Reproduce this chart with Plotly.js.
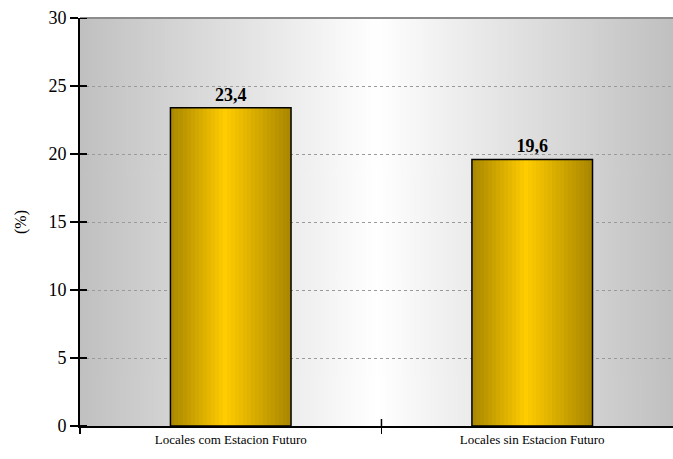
<!DOCTYPE html>
<html><head><meta charset="utf-8">
<script src="https://cdn.plot.ly/plotly-3.0.1.min.js"></script>
<style>html,body{margin:0;padding:0;overflow:hidden;background:#fff}</style>
</head><body><div id="chart" style="width:673px;height:459px"></div>
<script>
const categories = ["Locales com Estacion Futuro", "Locales sin Estacion Futuro"];
const values = [23.4, 19.6];
const valueLabels = ["23,4", "19,6"];
const yTicks = [0, 5, 10, 15, 20, 25, 30];

function gradientURL(stops, w) {
  const c = document.createElement('canvas');
  c.width = w; c.height = 4;
  const g = c.getContext('2d');
  const lg = g.createLinearGradient(0, 0, w, 0);
  stops.forEach(s => lg.addColorStop(s[0], s[1]));
  g.fillStyle = lg; g.fillRect(0, 0, w, 4);
  return c.toDataURL();
}
function hex(c){return [parseInt(c.slice(1,3),16),parseInt(c.slice(3,5),16),parseInt(c.slice(5,7),16)];}
function mix(a,b,t){const A=hex(a),B=hex(b);return 'rgb('+A.map((v,i)=>Math.round(v+(B[i]-v)*t)).join(',')+')';}
function barColor(f){
  const edge='#a88600', mid='#ffcc00', p=0.45;
  return f<p ? mix(edge,mid,f/p) : mix(mid,edge,(f-p)/(1-p));
}

const serif = 'Liberation Serif';
const barWidth = 0.4;
const nStrips = 30;
const traces = [];
for (let k = 0; k < nStrips; k++) {
  const sw = barWidth / nStrips;
  traces.push({
    type: 'bar', x: categories, y: values,
    width: sw * 1.05, offset: -barWidth/2 + k*sw,
    marker: {color: barColor((k+0.5)/nStrips), line: {width: 0}},
    hoverinfo: 'skip', showlegend: false
  });
}
traces.push({
  type: 'bar', x: categories, y: values, width: barWidth, offset: -barWidth/2,
  marker: {color: 'rgba(0,0,0,0)', line: {color: '#000', width: 1.5}},
  text: valueLabels, textposition: 'outside', cliponaxis: false,
  textfont: {family: serif, size: 18, color: '#000', weight: 'bold'},
  showlegend: false
});

// inner halves of the crossing tick marks
const tickShapes = yTicks.map(v => ({
  type: 'line', xref: 'paper', xsizemode: 'pixel', xanchor: 0, x0: 0, x1: 7,
  yref: 'y', y0: v, y1: v, line: {color: '#000', width: 2}, layer: 'above'
}));
for (let i = 0; i < categories.length - 1; i++) {
  tickShapes.push({
    type: 'line', xref: 'x', x0: i + 0.5, x1: i + 0.5,
    yref: 'paper', ysizemode: 'pixel', yanchor: 0, y0: 0, y1: 7,
    line: {color: '#000', width: 1.5}, layer: 'above'
  });
}

const xr = [-0.5, 1.467];
const layout = {
  width: 673, height: 459,
  margin: {l: 80, r: 0, t: 18, b: 33},
  paper_bgcolor: '#ffffff', plot_bgcolor: '#c0c0c0',
  barmode: 'overlay', bargap: 0,
  font: {family: serif, color: '#000'},
  xaxis: {
    type: 'category', range: xr, tickson: 'boundaries',
    ticks: 'outside', ticklen: 6, tickwidth: 1.5, tickcolor: '#000',
    showgrid: false, showline: true, linecolor: '#000', linewidth: 2,
    tickfont: {family: serif, size: 13, color: '#000'}, zeroline: false
  },
  yaxis: {
    range: [0, 30], tickvals: yTicks, ticktext: yTicks.map(String),
    ticks: 'outside', ticklen: 8, tickwidth: 2, tickcolor: '#000',
    showline: true, linecolor: '#000', linewidth: 2,
    showgrid: true, gridcolor: '#9a9a9a', griddash: 'dot', gridwidth: 1,
    zeroline: false,
    tickfont: {family: serif, size: 18, color: '#000'},
    title: {text: '(%)', font: {family: serif, size: 16, color: '#000'}, standoff: 18}
  },
  images: [{
    source: gradientURL([[0,'#c0c0c0'],[0.5,'#ffffff'],[1,'#c0c0c0']], 600),
    xref: 'paper', yref: 'paper', x: 0, y: 1, sizex: 1, sizey: 1,
    xanchor: 'left', yanchor: 'top', sizing: 'stretch', layer: 'below'
  }],
  shapes: [{
    type: 'line', xref: 'paper', yref: 'paper', x0: 0, x1: 1, y0: 1, y1: 1,
    line: {color: '#8c8c8c', width: 2}, layer: 'above'
  }].concat(tickShapes)
};
Plotly.newPlot('chart', traces, layout, {displayModeBar: false, staticPlot: true});
</script></body></html>
